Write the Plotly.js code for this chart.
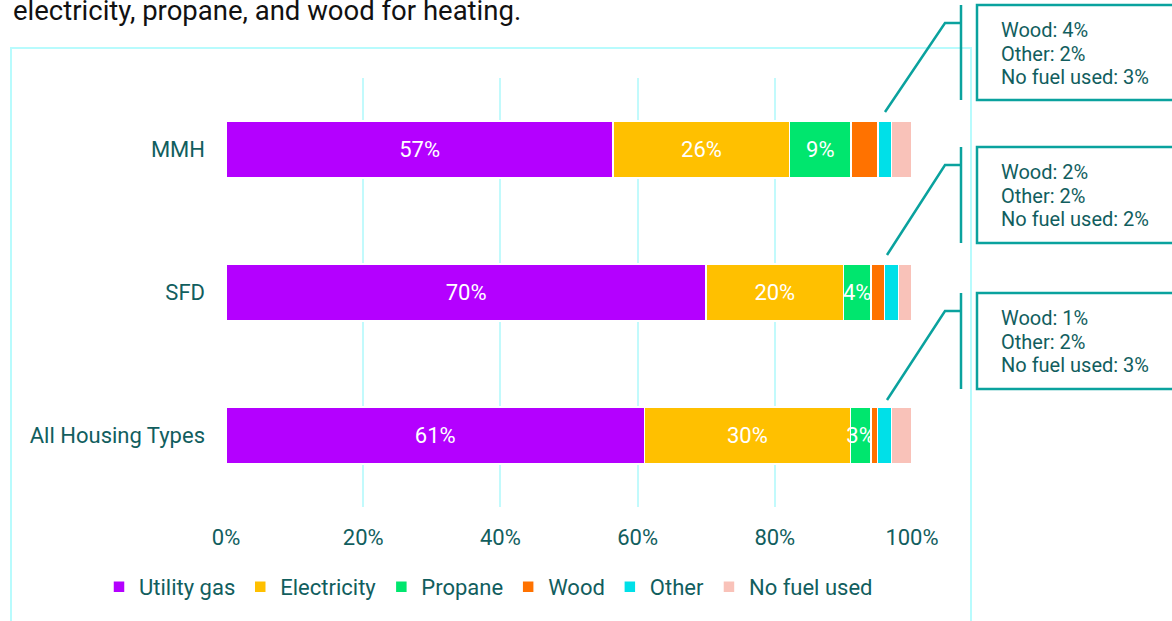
<!DOCTYPE html>
<html>
<head>
<meta charset="utf-8">
<script src="https://cdn.plot.ly/plotly-3.0.1.min.js"></script>
<style>
  html, body { margin: 0; padding: 0; background: #ffffff; }
  #chart { width: 1172px; height: 621px; }
</style>
</head>
<body>
<div id="chart"></div>
<script>
// ---- Data ----
var categories = ['MMH', 'SFD', 'All Housing Types'];
var seriesNames = ['Utility gas', 'Electricity', 'Propane', 'Wood', 'Other', 'No fuel used'];
var utilityGas  = [57, 70, 61];
var electricity = [26, 20, 30];
var propane     = [9, 4, 3];
var wood        = [4, 2, 1];
var other       = [2, 2, 2];
var noFuel      = [3, 2, 3];
var xTickVals   = [0, 20, 40, 60, 80, 100];
var xTickText   = ['0%', '20%', '40%', '60%', '80%', '100%'];
var titleLine   = 'electricity, propane, and wood for heating.';

// ---- Styling ----
var colors = ['#b400ff', '#ffc000', '#00e66e', '#ff7200', '#00e0e8', '#f9c2b9'];
var labelled = [true, true, true, false, false, false];
var textColor = '#115e5e';
var teal = '#0aa29e';
var gridCyan = '#c2fafc';
var FONT = 'Roboto, "Liberation Sans", Arial, sans-serif';

var W = 1172, H = 621;
var L = 226, R = 912, T = 78, B = 507;
function px(x) { return (x - L) / (R - L); }
function py(y) { return (B - y) / (B - T); }

var seriesValues = [utilityGas, electricity, propane, wood, other, noFuel];
var traces = seriesValues.map(function (vals, i) {
  return {
    type: 'bar',
    orientation: 'h',
    name: seriesNames[i],
    y: categories,
    x: vals,
    marker: { color: colors[i], line: { color: '#ffffff', width: 1.5 } },
    text: labelled[i] ? vals.map(function (v) { return v + '%'; }) : null,
    texttemplate: labelled[i] ? '%{text}' : '',
    textposition: labelled[i] ? 'inside' : 'none',
    textangle: 0,
    insidetextanchor: 'middle',
    textfont: { family: FONT, size: 22, color: '#ffffff' },
    hoverinfo: 'skip'
  };
});

// Callouts
var boxTop = [5, 147, 293], boxBot = [100, 243, 389];
var startY = [112, 255, 400], startX = [885, 887, 887];
var elbowY = [23, 165, 311];
var shapes = [];
var annotations = [];

// outer chart border
shapes.push({ type: 'rect', xref: 'paper', yref: 'paper',
  x0: px(11), x1: px(971), y0: py(48), y1: py(680),
  line: { color: '#b8fbfd', width: 2 }, fillcolor: 'rgba(0,0,0,0)', layer: 'below' });

for (var i = 0; i < categories.length; i++) {
  shapes.push({ type: 'path', xref: 'paper', yref: 'paper',
    path: 'M' + px(startX[i]) + ',' + py(startY[i]) + ' L' + px(945) + ',' + py(elbowY[i]) + ' L' + px(961) + ',' + py(elbowY[i]),
    line: { color: teal, width: 2.5 } });
  shapes.push({ type: 'line', xref: 'paper', yref: 'paper',
    x0: px(961), x1: px(961), y0: py(boxTop[i]), y1: py(boxBot[i]),
    line: { color: teal, width: 2.5 } });
  shapes.push({ type: 'rect', xref: 'paper', yref: 'paper',
    x0: px(977), x1: px(1260), y0: py(boxTop[i]), y1: py(boxBot[i]),
    line: { color: teal, width: 2.5 }, fillcolor: 'rgba(0,0,0,0)' });
  var lines = ['Wood: ' + wood[i] + '%', 'Other: ' + other[i] + '%', 'No fuel used: ' + noFuel[i] + '%'];
  for (var k = 0; k < lines.length; k++) {
    annotations.push({ xref: 'paper', yref: 'paper',
      x: px(999), y: py(boxTop[i] + 25 + 23.5 * k), xanchor: 'left', yanchor: 'middle',
      align: 'left', showarrow: false, text: lines[k],
      font: { family: FONT, size: 20, color: textColor } });
  }
}

annotations.push({ xref: 'paper', yref: 'paper', x: px(11), y: py(10),
  xanchor: 'left', yanchor: 'middle', showarrow: false,
  text: titleLine, font: { family: FONT, size: 27.5, color: '#111111' } });

var layout = {
  width: W, height: H, autosize: false,
  margin: { l: L, r: W - R, t: T, b: H - B, pad: 0 },
  paper_bgcolor: '#ffffff', plot_bgcolor: '#ffffff',
  barmode: 'stack',
  barnorm: 'percent',
  bargap: 0.6,
  uniformtext: { mode: 'show', minsize: 22 },
  font: { family: FONT, color: textColor },
  showlegend: true,
  legend: { orientation: 'h', x: px(99), xanchor: 'left', y: py(587), yanchor: 'middle',
    font: { family: FONT, size: 22, color: textColor }, traceorder: 'normal', itemclick: false,
    itemwidth: 30, tracegroupgap: 0 },
  xaxis: {
    range: [0, 100], tickvals: xTickVals, ticktext: xTickText, showgrid: true,
    gridcolor: gridCyan, gridwidth: 2, zeroline: false, showline: false, ticks: '',
    ticklabelstandoff: 15, fixedrange: true,
    tickfont: { family: FONT, size: 22, color: textColor }
  },
  yaxis: {
    type: 'category', autorange: 'reversed', showgrid: false, zeroline: false,
    showline: false, ticks: '', ticklabelstandoff: 20, fixedrange: true,
    tickfont: { family: FONT, size: 22, color: textColor }
  },
  shapes: shapes,
  annotations: annotations
};

Plotly.newPlot('chart', traces, layout, { displayModeBar: false, staticPlot: true });
</script>
</body>
</html>
